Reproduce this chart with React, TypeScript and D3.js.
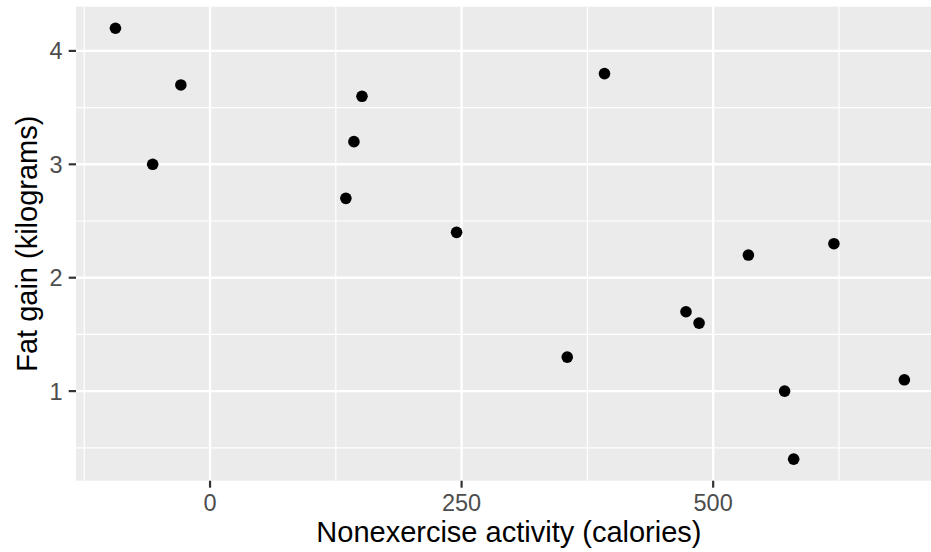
import React from "react";
import * as d3 from "d3";

const nea: number[] = [-94, -57, -29, 135, 143, 151, 245, 355, 392, 473, 486, 535, 571, 580, 620, 690];
const fat: number[] = [4.2, 3.0, 3.7, 2.7, 3.2, 3.6, 2.4, 1.3, 3.8, 1.7, 1.6, 2.2, 1.0, 0.4, 2.3, 1.1];
const xMajor: number[] = [0, 250, 500];
const xMinor: number[] = [-125, 125, 375, 625];
const yMajor: number[] = [1, 2, 3, 4];
const yMinor: number[] = [0.5, 1.5, 2.5, 3.5];
const xTitle = "Nonexercise activity (calories)";
const yTitle = "Fat gain (kilograms)";

const W = 931;
const H = 552;
const FONT = "'Liberation Sans', Arial, Helvetica, sans-serif";

export default function App() {
  const xExt = d3.extent(nea) as [number, number];
  const yExt = d3.extent(fat) as [number, number];
  const xPad = (xExt[1] - xExt[0]) * 0.05;
  const yPad = (yExt[1] - yExt[0]) * 0.05;
  const left = 76;
  const right = 943.8;
  const top = 6.7;
  const bottom = 480.7;
  const x = d3.scaleLinear().domain([xExt[0] - xPad, xExt[1] + xPad]).range([left, right]);
  const y = d3.scaleLinear().domain([yExt[0] - yPad, yExt[1] + yPad]).range([bottom, top]);

  return (
    <div style={{ position: "absolute", left: 0, top: 0 }}>
      <svg width={W} height={H} style={{ display: "block", background: "#fff" }} fontFamily={FONT}>
        <rect x={left} y={top} width={right - left} height={bottom - top} fill="#EBEBEB" />
        {yMinor.map((v) => (
          <line key={"ym" + v} x1={left} x2={right} y1={y(v)} y2={y(v)} stroke="#fff" strokeWidth={1.2} />
        ))}
        {xMinor.map((v) => (
          <line key={"xm" + v} x1={x(v)} x2={x(v)} y1={top} y2={bottom} stroke="#fff" strokeWidth={1.2} />
        ))}
        {yMajor.map((v) => (
          <line key={"yM" + v} x1={left} x2={right} y1={y(v)} y2={y(v)} stroke="#fff" strokeWidth={2.4} />
        ))}
        {xMajor.map((v) => (
          <line key={"xM" + v} x1={x(v)} x2={x(v)} y1={top} y2={bottom} stroke="#fff" strokeWidth={2.4} />
        ))}
        {nea.map((v, i) => (
          <circle key={"p" + i} cx={x(v)} cy={y(fat[i])} r={5.8} fill="#000" />
        ))}
        {yMajor.map((v) => (
          <g key={"yt" + v}>
            <line x1={left - 7.3} x2={left} y1={y(v)} y2={y(v)} stroke="#333333" strokeWidth={2.2} />
            <text x={left - 13.5} y={y(v)} dy="0.36em" textAnchor="end" fontSize={23.5} fill="#4D4D4D">
              {v}
            </text>
          </g>
        ))}
        {xMajor.map((v) => (
          <g key={"xt" + v}>
            <line x1={x(v)} x2={x(v)} y1={bottom} y2={bottom + 7} stroke="#333333" strokeWidth={2.2} />
            <text x={x(v)} y={511} textAnchor="middle" fontSize={23.5} fill="#4D4D4D">
              {v}
            </text>
          </g>
        ))}
        <text x={(left + right) / 2 - 1} y={542} textAnchor="middle" fontSize={29} fill="#000">
          {xTitle}
        </text>
        <text
          transform={`translate(36.5, ${(top + bottom) / 2}) rotate(-90)`}
          textAnchor="middle"
          fontSize={29}
          fill="#000"
        >
          {yTitle}
        </text>
      </svg>
    </div>
  );
}
